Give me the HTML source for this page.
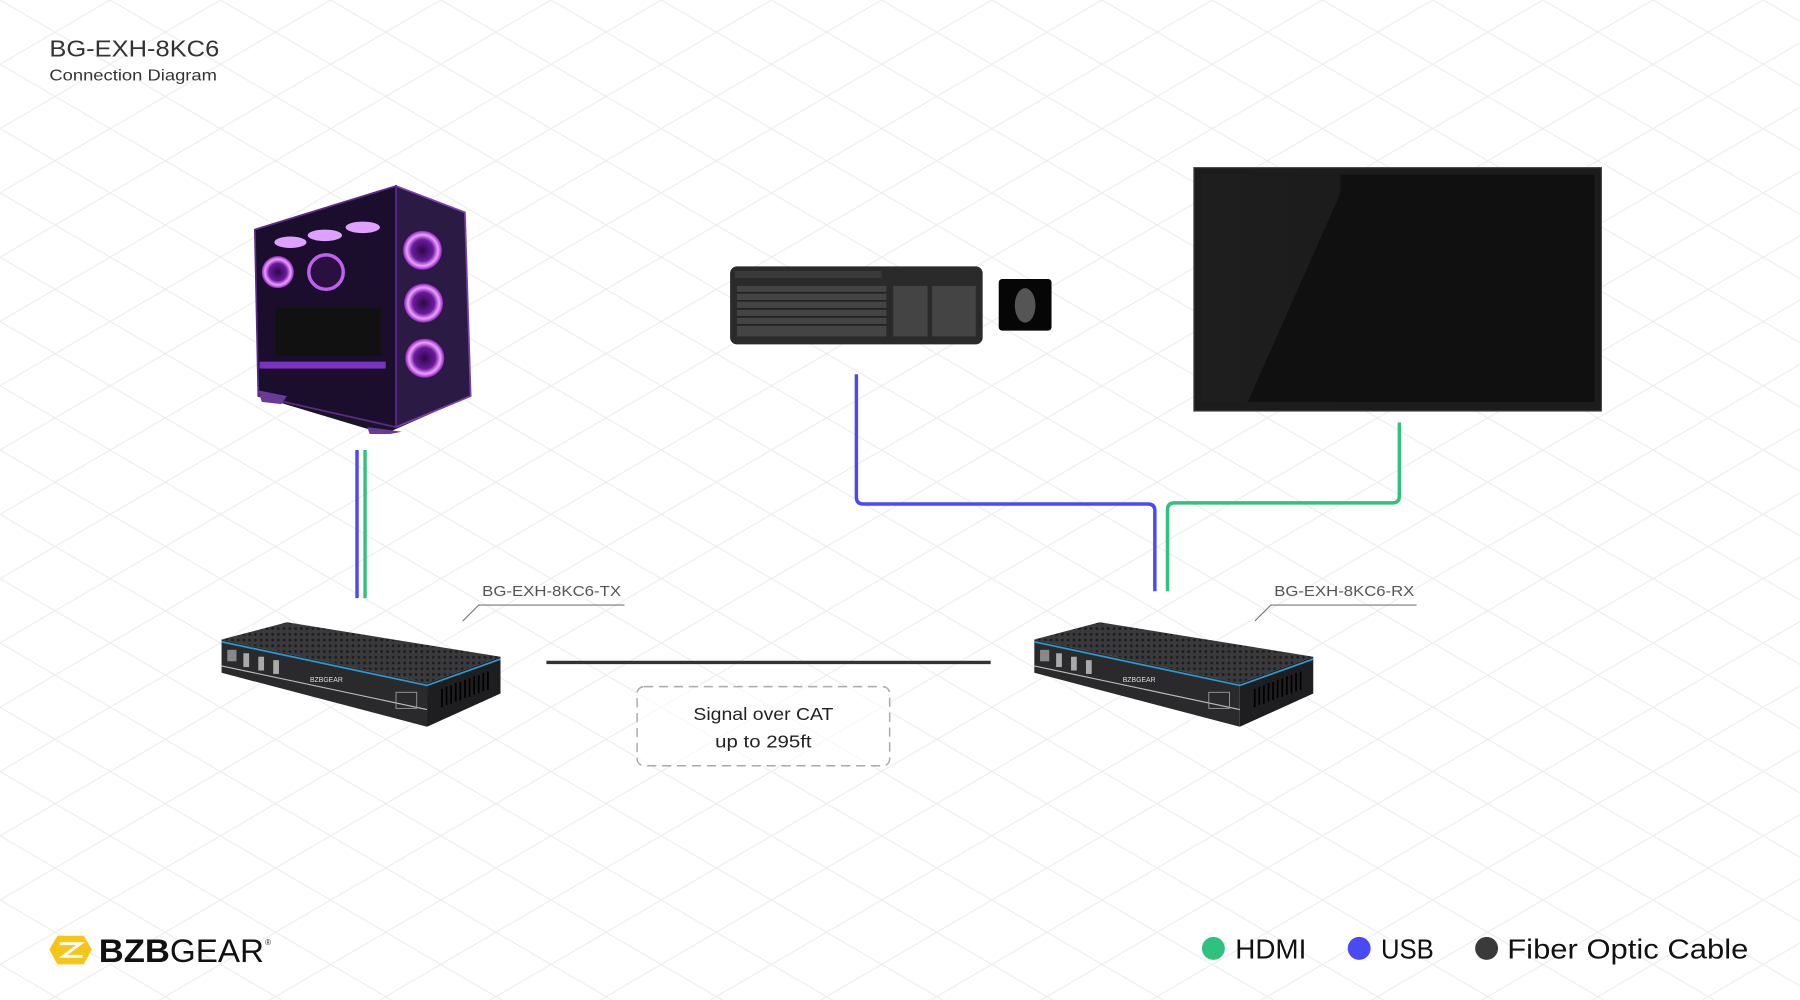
<!DOCTYPE html>
<html><head><meta charset="utf-8"><style>
html,body{margin:0;padding:0;background:#fff;}
svg{display:block;}
text{font-family:"Liberation Sans",sans-serif;}
</style></head><body>
<svg width="1800" height="1000" viewBox="0 0 1568 871" preserveAspectRatio="none" xmlns="http://www.w3.org/2000/svg">
<defs>
<pattern id="grid" width="96" height="56" patternUnits="userSpaceOnUse">
<path d="M0 0 L96 56 M96 0 L0 56" stroke="#ececec" stroke-width="1" fill="none"/>
</pattern>
<pattern id="mesh" width="5" height="5" patternUnits="userSpaceOnUse">
<rect width="5" height="5" fill="#3a3a3c"/><circle cx="2.5" cy="2.5" r="1.2" fill="#1c1c1e"/>
</pattern>
<radialGradient id="fan" cx="50%" cy="50%" r="50%">
<stop offset="0" stop-color="#2a0a40"/><stop offset="0.55" stop-color="#6a1aa0"/><stop offset="0.8" stop-color="#f0a0ff"/><stop offset="1" stop-color="#8a20c0"/>
</radialGradient>
<linearGradient id="scr" x1="0" y1="0" x2="1" y2="0">
<stop offset="0" stop-color="#1e1e1e"/><stop offset="0.35" stop-color="#1c1c1c"/><stop offset="0.36" stop-color="#101010"/><stop offset="1" stop-color="#151515"/>
</linearGradient>
</defs>
<rect width="1568" height="871" fill="#fff"/>
<rect width="1568" height="871" fill="url(#grid)"/>

<text x="43" y="49" font-size="20" fill="#333" textLength="148" lengthAdjust="spacingAndGlyphs">BG-EXH-8KC6</text>
<text x="43" y="70" font-size="14" fill="#333" textLength="146" lengthAdjust="spacingAndGlyphs">Connection Diagram</text>

<!-- PC -->
<g>
<polygon points="222,200 345,162 405,185 410,345 335,378 225,345" fill="#1a1426"/>
<polygon points="345,162 405,185 410,345 345,372" fill="#2a1a44" stroke="#7a40b0" stroke-width="1.5"/>
<polygon points="222,200 345,162 345,372 225,345" fill="#1a0e2c" stroke="#5a2a8a" stroke-width="1.5"/>
<circle cx="368" cy="218" r="17" fill="url(#fan)"/>
<circle cx="369" cy="264" r="17" fill="url(#fan)"/>
<circle cx="370" cy="312" r="17" fill="url(#fan)"/>
<circle cx="242" cy="237" r="14" fill="url(#fan)"/>
<circle cx="284" cy="237" r="15" fill="#2a1040" stroke="#c060f0" stroke-width="3"/>
<ellipse cx="253" cy="211" rx="14" ry="5" fill="#e0a0ff"/>
<ellipse cx="283" cy="205" rx="15" ry="5" fill="#e0a0ff"/>
<ellipse cx="316" cy="198" rx="15" ry="5" fill="#e0a0ff"/>
<rect x="240" y="268" width="92" height="42" fill="#111"/>
<rect x="226" y="315" width="110" height="6" fill="#7a30c0"/>
<polygon points="225,340 250,345 245,352 228,350" fill="#6a3a9a"/>
<polygon points="320,372 350,376 340,378 322,378" fill="#6a3a9a"/>
</g>

<!-- Keyboard -->
<rect x="636" y="232" width="220" height="68" rx="6" fill="#2a2a2a"/>
<rect x="640" y="236" width="128" height="6" fill="#3a3a3a"/>
<rect x="642" y="249" width="130" height="44" fill="#444"/>
<rect x="778" y="249" width="30" height="44" fill="#444"/>
<rect x="812" y="249" width="38" height="44" fill="#444"/>
<path d="M642 255 H772 M642 262 H772 M642 269 H772 M642 276 H772 M642 283 H772" stroke="#222" stroke-width="1.5"/>
<rect x="870" y="243" width="46" height="45" rx="3" fill="#060606"/>
<ellipse cx="893" cy="266" rx="9" ry="15" fill="#555"/>

<!-- Monitor -->
<rect x="1040" y="146" width="355" height="212" fill="#1c1c1c" stroke="#444" stroke-width="1"/>
<rect x="1046" y="152" width="343" height="198" fill="url(#scr)"/>
<polygon points="1175,152 1389,152 1389,350 1087,350" fill="#101010"/>

<!-- cables -->
<line x1="311" y1="392" x2="311" y2="521" stroke="#4a4af5" stroke-width="3"/>
<line x1="318" y1="392" x2="318" y2="521" stroke="#2ec27e" stroke-width="3"/>
<path d="M746 326 V433 Q746 439 752 439 H1000 Q1006 439 1006 445 V515" stroke="#4a4af5" stroke-width="3" fill="none"/>
<path d="M1219 368 V432 Q1219 438 1213 438 H1023 Q1017 438 1017 444 V515" stroke="#2ec27e" stroke-width="3" fill="none"/>
<line x1="476" y1="577" x2="863" y2="577" stroke="#333" stroke-width="3"/>

<rect x="555" y="598" width="220" height="69" rx="6" fill="#fff" fill-opacity="0.6" stroke="#aaa" stroke-width="1.3" stroke-dasharray="8 5"/>
<text x="665" y="627" font-size="15" fill="#222" text-anchor="middle" textLength="122" lengthAdjust="spacingAndGlyphs">Signal over CAT</text>
<text x="665" y="651" font-size="15" fill="#222" text-anchor="middle" textLength="84" lengthAdjust="spacingAndGlyphs">up to 295ft</text>

<!-- labels -->
<text x="420" y="519" font-size="13" fill="#555" textLength="121" lengthAdjust="spacingAndGlyphs">BG-EXH-8KC6-TX</text>
<path d="M544 527 H417 L403 541" stroke="#777" stroke-width="1" fill="none"/>
<text x="1110" y="519" font-size="13" fill="#555" textLength="122" lengthAdjust="spacingAndGlyphs">BG-EXH-8KC6-RX</text>
<path d="M1234 527 H1107 L1093 541" stroke="#777" stroke-width="1" fill="none"/>

<!-- devices -->
<g id="dev">
<polygon points="193,557 250,542 436,572 372,595" fill="url(#mesh)"/>
<polygon points="193,557 372,595 372,633 193,586" fill="#2a2a2c"/>
<polygon points="372,595 436,572 436,604 372,633" fill="#1e1e20"/>
<path d="M193,559 L372,597 L436,574" stroke="#2a9ad8" stroke-width="1.5" fill="none"/>
<path d="M193,580 L372,618" stroke="#bbb" stroke-width="1" fill="none"/>
<rect x="198" y="566" width="8" height="10" fill="#888"/>
<rect x="212" y="569" width="5" height="12" fill="#aaa"/>
<rect x="225" y="572" width="5" height="12" fill="#aaa"/>
<rect x="238" y="575" width="5" height="12" fill="#aaa"/>
<text x="270" y="594" font-size="6" fill="#ddd">BZBGEAR</text>
<rect x="345" y="603" width="18" height="14" fill="none" stroke="#999" stroke-width="0.8"/>
<path d="M385,600 V616 M389,598 V614 M393,597 V613 M397,595 V611 M401,594 V610 M405,592 V608 M409,591 V607 M413,589 V605 M417,588 V604 M421,586 V602 M425,585 V601" stroke="#000" stroke-width="1.5"/>
</g>
<use href="#dev" transform="translate(708,0)"/>

<!-- logo -->
<polygon points="50,815 73,815 80,827 73,840 50,840 43,827" fill="#f5c518"/>
<path d="M52,822 L70,822 L55,833 L72,833" stroke="#fff" stroke-width="2.5" fill="none"/>
<text x="86" y="838" font-size="28" fill="#111" font-weight="bold" textLength="62" lengthAdjust="spacingAndGlyphs">BZB</text>
<text x="148" y="838" font-size="28" fill="#111" textLength="82" lengthAdjust="spacingAndGlyphs">GEAR</text>
<text x="231" y="823" font-size="7" fill="#333">®</text>

<!-- legend -->
<circle cx="1057" cy="826" r="10" fill="#2ec27e"/>
<text x="1076" y="835" font-size="24" fill="#111" textLength="62" lengthAdjust="spacingAndGlyphs">HDMI</text>
<circle cx="1184" cy="826" r="10" fill="#4a4af5"/>
<text x="1203" y="835" font-size="24" fill="#111" textLength="46" lengthAdjust="spacingAndGlyphs">USB</text>
<circle cx="1295" cy="826" r="10" fill="#3a3a3a"/>
<text x="1313" y="835" font-size="24" fill="#111" textLength="210" lengthAdjust="spacingAndGlyphs">Fiber Optic Cable</text>
</svg>
</body></html>
